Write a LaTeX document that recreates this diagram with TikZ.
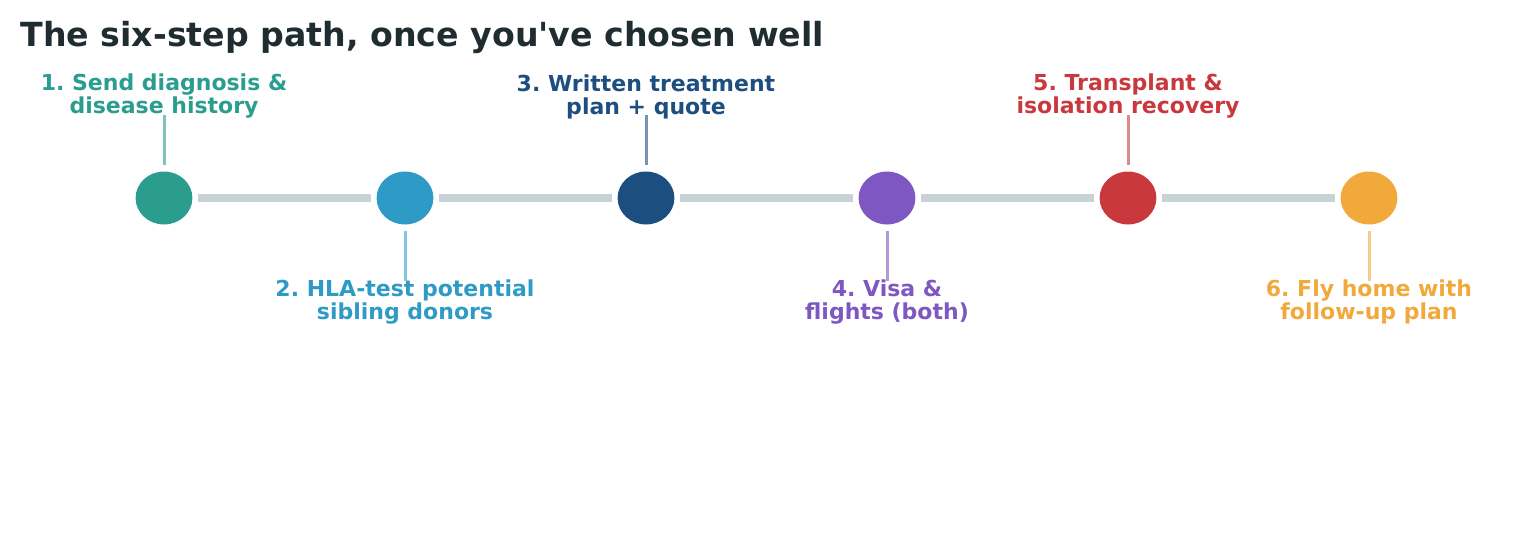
\documentclass[tikz,border=0pt]{standalone}
\usepackage{fontspec}
\setmainfont{DejaVu Sans}
\usepackage{tikz}
\usetikzlibrary{shapes.geometric}
\definecolor{titleink}{HTML}{1F2D30}
\definecolor{trackgray}{HTML}{C8D2D5}
\definecolor{stepteal}{HTML}{2A9D8F}
\definecolor{stepblue}{HTML}{2E9BC6}
\definecolor{stepnavy}{HTML}{1D4E80}
\definecolor{steppurple}{HTML}{7E57C2}
\definecolor{stepred}{HTML}{C8383C}
\definecolor{steporange}{HTML}{F2A93B}
\frenchspacing

\begin{document}
\begin{tikzpicture}[x=0.5pt,y=-0.5pt,
  dot/.style={ellipse,inner sep=0pt,minimum width=28.4pt,minimum height=26.5pt},
  steplabel/.style={font=\bfseries\fontsize{11}{11.5}\selectfont,align=center,inner sep=0pt},
  track/.style={line width=4pt,trackgray,shorten >=2.75pt,shorten <=2.75pt},
  stem/.style={line width=1.5pt,shorten <=3pt}]
  \useasboundingbox (0,0) rectangle (1533,558);
  % Title
  \node[anchor=base west,inner sep=0pt,text=titleink,
    font=\bfseries\fontsize{16.6}{20}\selectfont] (title) at (20,46)
    {The six-step path, once you\textquotesingle ve chosen well};
  % Step dots
  \foreach \i/\col in {1/stepteal,2/stepblue,3/stepnavy,4/steppurple,5/stepred,6/steporange}
    \node[dot,fill=\col] (s\i) at ({164+241*(\i-1)},198) {};
  % Track between the dots
  \foreach \i [count=\j from 2] in {1,...,5}
    \draw[track] (s\i) -- (s\j);
  % Labels above
  \node[steplabel,text=stepteal,anchor=south] (l1) at (164,119)
    {1. Send diagnosis \&\\disease history};
  \node[steplabel,text=stepnavy,anchor=south] (l3) at (646,119)
    {3. Written treatment\\plan + quote};
  \node[steplabel,text=stepred,anchor=south] (l5) at (1128,119)
    {5. Transplant \&\\isolation recovery};
  % Labels below
  \node[steplabel,text=stepblue,anchor=north] (l2) at (405,279)
    {2. HLA-test potential\\sibling donors};
  \node[steplabel,text=steppurple,anchor=north] (l4) at (887,279)
    {4. Visa \&\\flights (both)};
  \node[steplabel,text=steporange,anchor=north] (l6) at (1369,279)
    {6. Fly home with\\follow-up plan};
  % Stems
  \foreach \i/\col in {1/stepteal,3/stepnavy,5/stepred}
    \draw[stem,\col!60!white,shorten >=-2pt] (s\i) -- (l\i);
  \foreach \i/\col in {2/stepblue,4/steppurple,6/steporange}
    \draw[stem,\col!60!white,shorten >=-1pt] (s\i) -- (l\i);
\end{tikzpicture}
\end{document}
